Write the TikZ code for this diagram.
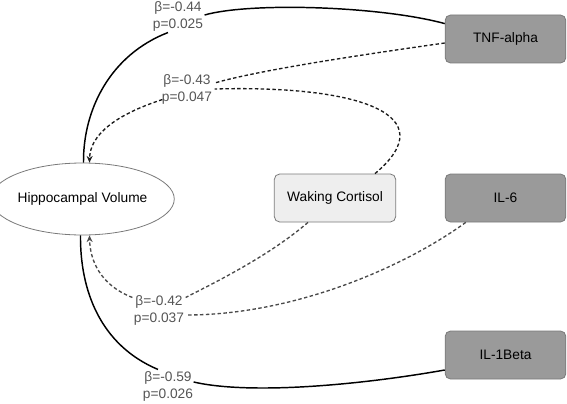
\documentclass[tikz,border=0pt]{standalone}
\usepackage{fontspec}
\setmainfont{Liberation Sans}
\usetikzlibrary{calc,arrows.meta,shapes.geometric}
\definecolor{cytofill}{HTML}{9A9A9A}
\definecolor{cytoline}{HTML}{7A7A7A}
\definecolor{cortfill}{HTML}{EEEEEE}
\definecolor{labgray}{HTML}{555555}
\definecolor{dashdark}{HTML}{1A1A1A}
\definecolor{dashgray}{HTML}{4A4A4A}
\begin{document}
\begin{tikzpicture}[x=0.75pt,y=-0.75pt,
  every node/.style={font=\fontsize{10.3}{12.8}\selectfont},
  cyto/.style={draw=cytoline,fill=cytofill,rounded corners=4pt,minimum width=90.5pt,minimum height=36pt,inner sep=0pt,line width=0.6pt},
  cortbox/.style={draw=cytoline,fill=cortfill,rounded corners=4pt,minimum width=91pt,minimum height=36pt,inner sep=0pt,line width=0.6pt},
  hvshape/.style={draw=cytoline,ellipse,minimum width=120.5pt,minimum height=54pt,inner sep=0pt,line width=0.6pt},
  coef/.style={text=labgray,align=center,inner sep=1pt},
  solidedge/.style={line width=1.1pt,black},
  dashtop/.style={line width=1pt,dashdark,dash pattern=on 2.6pt off 1.8pt},
  dashlow/.style={line width=1pt,dashgray,dash pattern=on 2.6pt off 1.8pt},
  tip/.style={-{Stealth[length=5pt,width=4.5pt]}}
]
\useasboundingbox (0,0) rectangle (567,403);
% nodes
\node[cyto] (tnf) at (505.5,39) {TNF-alpha};
\node[cyto] (il6) at (505.5,198) {IL-6};
\node[cyto] (il1) at (505.5,355) {IL-1Beta};
\node[cortbox] (cort) at (335,198) {Waking Cortisol};
\node[hvshape] (hv) at (82.5,199) {Hippocampal Volume};
% coefficient labels
\node[coef] (l1) at (178,16) {β=-0.44\\p=0.025};
\node[coef] (l2) at (187,89) {β=-0.43\\p=0.047};
\node[coef] (l3) at (159,310) {β=-0.42\\p=0.037};
\node[coef] (l4) at (168,386) {β=-0.59\\p=0.026};
% TNF direct
\draw[solidedge] ($(tnf.north west)+(0,9)$) .. controls (380,6) and (250,2) .. ($(l1.east)+(0,-1)$);
\draw[solidedge] ($(l1.south)+(-10,0)$) .. controls (110,55) and (83,110) .. ($(hv.north)+(1,0)$);
% TNF via cortisol
\draw[dashtop] ($(tnf.west)+(0,4)$) .. controls (360,55) and (260,70) .. ($(l2.east)+(1,-6)$);
\draw[dashtop] ($(cort.north)+(40,0)$) .. controls (445,115) and (360,85) .. ($(l2.east)+(1,0)$);
\draw[dashtop,tip] ($(l2.south west)+(2,-6)$) .. controls (115,115) and (90,135) .. ($(hv.north)+(7,0)$);
% IL-6 via cortisol
\draw[dashlow] ($(cort.south)+(-27,0)$) .. controls (270,255) and (220,280) .. ($(l3.north east)+(0,4)$);
\draw[dashlow] ($(il6.south west)+(21,0)$) .. controls (400,270) and (290,315) .. ($(l3.east)+(1,5)$);
\draw[dashlow,tip] ($(l3.north west)+(0,4)$) .. controls (100,285) and (90,260) .. ($(hv.south)+(7,0)$);
% IL-1Beta direct
\draw[solidedge] ($(il1.west)+(0,15)$) .. controls (360,385) and (250,395) .. ($(l4.east)+(-1,-4)$);
\draw[solidedge] ($(l4.north)+(-10,0)$) .. controls (100,345) and (80,290) .. ($(hv.south)+(-2,0)$);
\end{tikzpicture}
\end{document}
